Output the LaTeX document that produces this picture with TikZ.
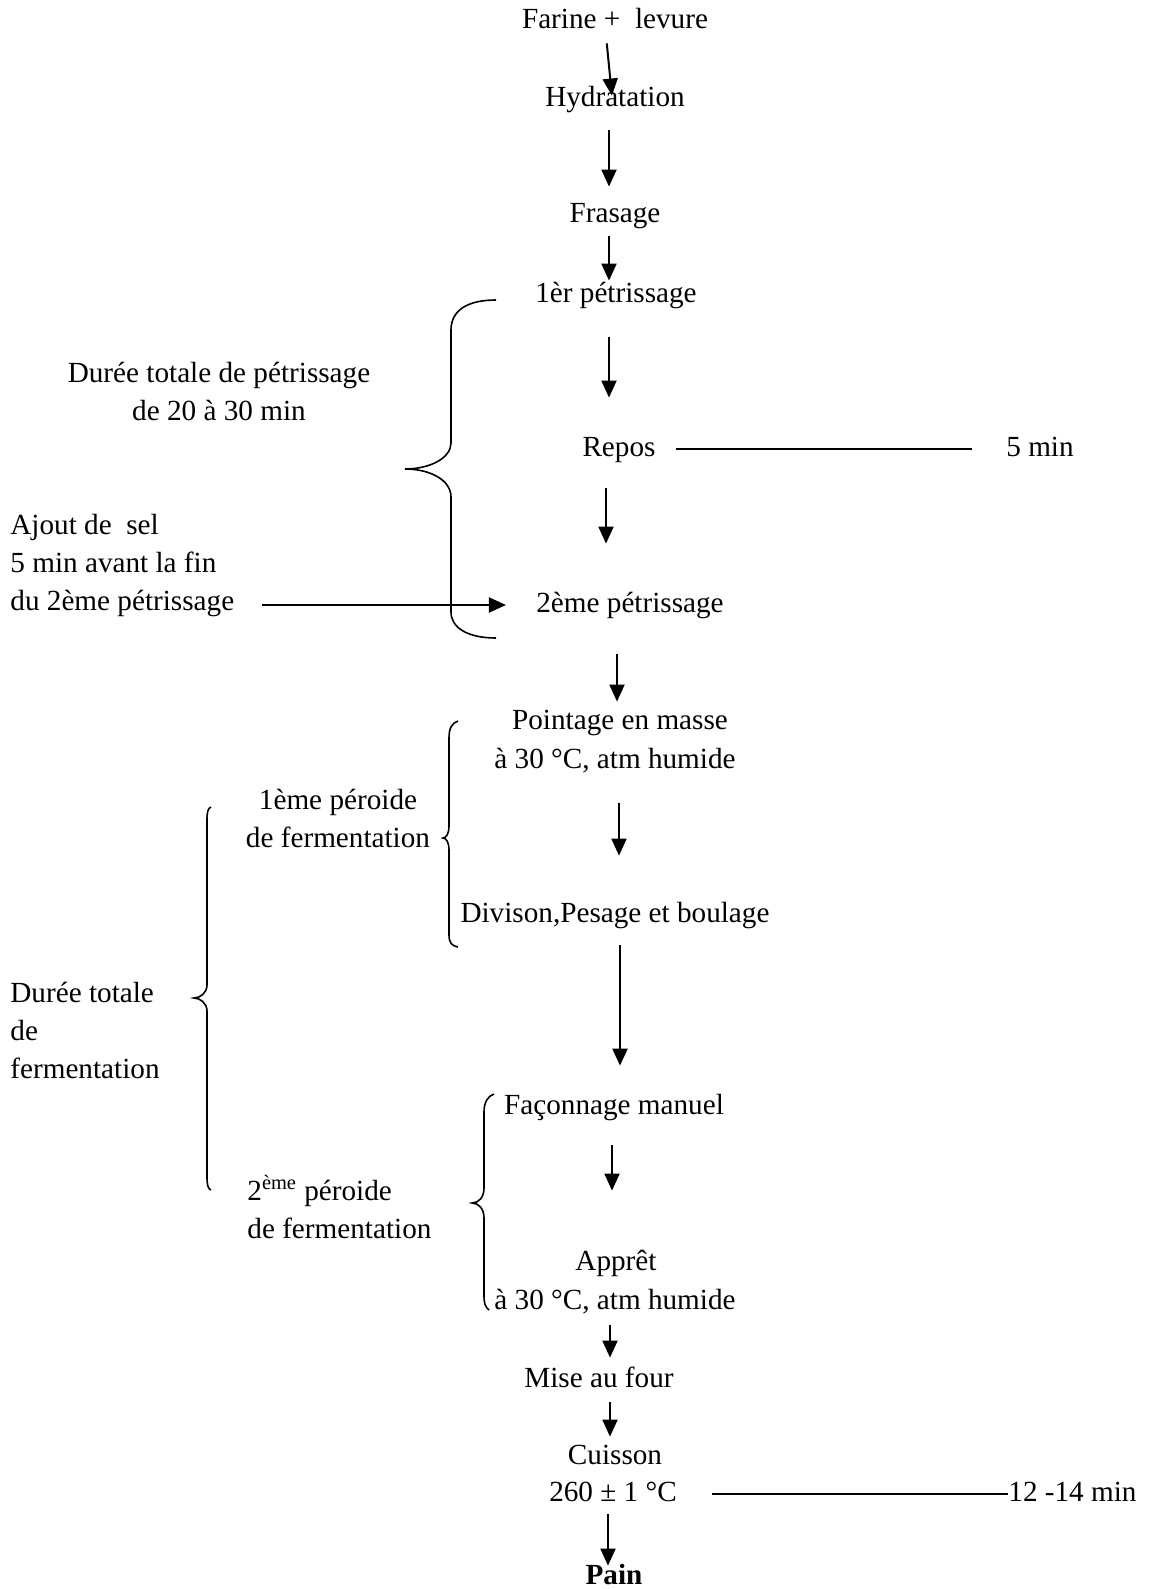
\documentclass[tikz,border=0pt]{standalone}
\usepackage{fontspec}
\setmainfont{Liberation Serif}
\usetikzlibrary{arrows.meta}

\begin{document}
\begin{tikzpicture}[x=0.5pt, y=-0.5pt,
		every node/.style={font=\fontsize{14.6}{19}\selectfont},
		stage/.style={inner sep=0pt, text height=10pt, text depth=3pt},
		note/.style={inner sep=0pt},
		flow/.style={line width=1pt, -{Triangle[length=8.5pt, width=7.5pt]}},
		rule/.style={line width=1pt},
		brace/.style={line width=0.8pt},
	]
		\useasboundingbox (0,0) rectangle (1154,1589);

		% nodes
		\node[stage] (farine)    at (615,22)   {Farine +~~levure};
		\node[stage] (hydra)     at (615,100)  {Hydratation};
		\node[stage] (frasage)   at (615,216)  {Frasage};
		\node[stage] (petr1)     at (616,295)  {1èr pétrissage};
		\node[stage] (repos)     at (619,449)  {Repos};
		\node[stage] (fivemin)   at (1040,449) {5 min};
		\node[stage] (petr2)     at (630,605)  {2ème pétrissage};
		\node[stage] (pointage)  at (620,722)  {Pointage en masse};
		\node[stage] (pointcond) at (615,761)  {à 30 °C, atm humide};
		\node[stage] (division)  at (615,915)  {Divison,Pesage et boulage};
		\node[stage] (faconnage) at (614,1107) {Façonnage manuel};
		\node[stage] (appret)    at (616,1263) {Apprêt};
		\node[stage] (appcond)   at (615,1302) {à 30 °C, atm humide};
		\node[stage] (four)      at (599,1380) {Mise au four};
		\node[stage] (cuisson)   at (615,1457) {Cuisson};
		\node[stage] (temp)      at (613,1494) {260 ± 1 °C};
		\node[stage, anchor=west] (duree) at (1008,1494) {12 -14 min};
		\node[stage, font=\fontsize{14.6}{19}\selectfont\bfseries] (pain) at (614,1577) {Pain};

		% side notes
		\node[note, align=center] (petrtime) at (219,391) {Durée totale de pétrissage\\de 20 à 30 min};
		\node[note, align=left, anchor=west] (sel) at (10,566) {Ajout de~~sel\\5 min avant la fin\\du 2ème pétrissage};
		\node[note, align=center] (ferm1) at (338,818) {1ème péroide\\de fermentation};
		\node[note, align=left, anchor=west] (fermtotal) at (10,1030) {Durée totale\\de\\fermentation};
		\node[note, align=left, anchor=west] (ferm2) at (247,1207) {2\textsuperscript{ème} péroide\\de fermentation};

		% lines
		\draw[flow, shorten <=4pt, shorten >=-4.5pt] ([xshift=-4.5pt]farine.south) -- ([xshift=-2pt]hydra.north);
		\draw[flow, shorten <=8.5pt, shorten >=8pt] ([xshift=-3pt]hydra.south) -- ([xshift=-3pt]frasage.north);
		\draw[flow, shorten <=3.5pt, shorten >=0.5pt] ([xshift=-3pt]frasage.south) -- ([xshift=-3.5pt]petr1.north);
		\draw[flow, shorten <=14.5pt, shorten >=19pt] ([xshift=-3.5pt]petr1.south) -- ([xshift=-5pt]repos.north);
		\draw[flow, shorten <=13pt, shorten >=24pt] ([xshift=-6.5pt]repos.south) -- ([xshift=-12pt]petr2.north);
		\draw[flow, shorten <=18pt, shorten >=3.5pt] ([xshift=-6.5pt]petr2.south) -- ([xshift=-1.5pt]pointage.north);
		\draw[flow, shorten <=14.5pt, shorten >=23pt] ([xshift=2pt]pointcond.south) -- ([xshift=2pt]division.north);
		\draw[flow, shorten <=8.5pt, shorten >=14pt] ([xshift=2.5pt]division.south) -- ([xshift=3pt]faconnage.north);
		\draw[flow, shorten <=12.5pt, shorten >=29.5pt] ([xshift=-1pt]faconnage.south) -- ([xshift=-2pt]appret.north);
		\draw[flow, shorten <=5pt, shorten >=4.5pt] ([xshift=-2.5pt]appcond.south) -- ([xshift=5.5pt]four.north);
		\draw[flow, shorten <=4.5pt, shorten >=3.5pt] ([xshift=5.5pt]four.south) -- ([xshift=-2.5pt]cuisson.north);
		\draw[flow, shorten <=3.5pt, shorten >=-1pt] ([xshift=-2.5pt]temp.south) -- ([xshift=-3pt]pain.north);

		\draw[flow, shorten <=13.5pt, shorten >=15pt] (sel.east |- petr2) -- (petr2.west);
		\draw[rule, shorten <=10pt, shorten >=17pt] (repos.east) -- (fivemin.west);
		\draw[rule, shorten <=17.5pt] (temp.east) -- (duree.west);

		% braces
		\draw[brace] (496,300) .. controls (468,300) and (451,310) .. (451,330) -- (451,443)
			.. controls (451,458) and (430,469) .. (405,469)
			.. controls (430,469) and (451,480) .. (451,497) -- (451,612)
			.. controls (451,628) and (468,638) .. (496,638);
		\draw[brace] (458,721) .. controls (452,723) and (449,728) .. (449,738) -- (449,826)
			.. controls (449,834) and (446,838) .. (443,838)
			.. controls (446,838) and (449,842) .. (449,850) -- (449,935)
			.. controls (449,943) and (452,946) .. (458,947);
		\draw[brace] (494,1094) .. controls (488,1096) and (484,1102) .. (484,1112) -- (484,1188)
			.. controls (484,1197) and (479,1203) .. (472,1203)
			.. controls (479,1203) and (484,1209) .. (484,1218) -- (484,1295)
			.. controls (484,1303) and (485,1307) .. (489,1310);
		\draw[brace] (211,807) .. controls (208,808) and (207,812) .. (207,820) -- (207,985)
			.. controls (207,993) and (200,998) .. (194,998)
			.. controls (200,998) and (207,1003) .. (207,1011) -- (207,1177)
			.. controls (207,1185) and (208,1189) .. (211,1190);
	\end{tikzpicture}
\end{document}
